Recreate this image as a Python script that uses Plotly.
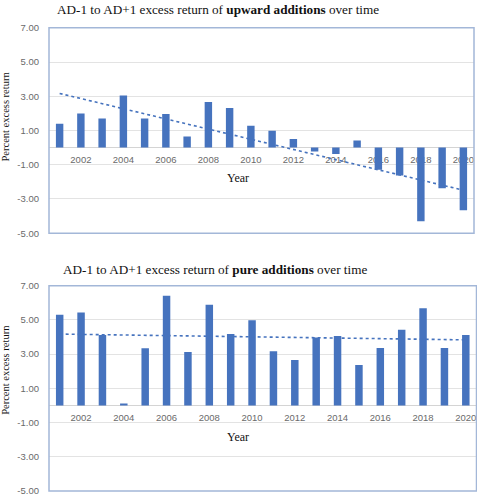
import numpy as np
import plotly.graph_objects as go

years = list(range(2001, 2021))
upward = [1.40, 2.00, 1.70, 3.05, 1.70, 1.97, 0.65, 2.67, 2.31, 1.28,
          0.99, 0.50, -0.23, -0.38, 0.42, -1.29, -1.63, -4.30, -2.38, -3.66]
pure = [5.30, 5.43, 4.12, 0.12, 3.34, 6.41, 3.13, 5.89, 4.18, 4.98,
        3.17, 2.66, 3.97, 4.06, 2.37, 3.36, 4.43, 5.69, 3.36, 4.12]
x_tick_years = list(range(2002, 2021, 2))
y_ticks = [-5, -3, -1, 1, 3, 5, 7]
y_tick_text = [f"{v:.2f}" for v in y_ticks]
title_top = "AD-1 to AD+1 excess return of <b>upward additions</b> over time"
title_bot = "AD-1 to AD+1 excess return of <b>pure additions</b> over time"

W, H = 477, 500
BAR = "#4673BE"
GRID = "#E3E3E3"
BORDER = "#A3B7D8"
TICKC = "#6A6A6A"
SERIF = "Liberation Serif, Times New Roman, serif"
SANS = "Liberation Sans, Arial, sans-serif"

def px_x(p):
    return p / W

def px_y(p):
    return 1 - p / H

panels = [
    dict(vals=upward, title=title_top, x0=49, x1=474, y0=22.3, y1=232.3,
         title_y=4, title_x=218, ytitle_y=113, year_y=176, xa="x", ya="y"),
    dict(vals=pure, title=title_bot, x0=49, x1=476.5, y0=286, y1=496,
         title_y=269.5, title_x=214.5, ytitle_y=372, year_y=441, xa="x2", ya="y2"),
]

fig = go.Figure()
shapes = []
annotations = []
for i, p in enumerate(panels):
    vals = p["vals"]
    fig.add_trace(go.Bar(x=years, y=vals, width=0.35, marker_color=BAR,
                         marker_line_width=0, xaxis=p["xa"], yaxis=p["ya"],
                         showlegend=False))
    coef = np.polyfit(years, vals, 1)
    trend = np.polyval(coef, years)
    fig.add_trace(go.Scatter(x=years, y=trend, mode="lines",
                             line=dict(color=BAR, dash="dot", width=1.6),
                             xaxis=p["xa"], yaxis=p["ya"], showlegend=False))
    ydom = [px_y(p["y1"]), px_y(p["y0"])]
    xdom = [px_x(p["x0"]), px_x(p["x1"])]
    zero_pos = ydom[0] + (ydom[1] - ydom[0]) * 5 / 12
    suffix = "" if i == 0 else "2"
    fig.update_layout(**{
        "xaxis" + suffix: dict(domain=xdom, range=[2000.5, 2020.5],
                               anchor="free", position=zero_pos,
                               tickvals=x_tick_years,
                               ticktext=[str(y) for y in x_tick_years],
                               showgrid=False, showline=False, ticks="",
                               tickfont=dict(family=SANS, size=9.5, color=TICKC),
                               ticklabelstandoff=5,
                               layer="below traces", fixedrange=True),
        "yaxis" + suffix: dict(domain=ydom, range=[-5, 7], tickvals=y_ticks,
                               ticktext=y_tick_text, showgrid=True,
                               gridcolor=GRID, gridwidth=1, zeroline=True,
                               zerolinecolor="#D4D4D4", zerolinewidth=1,
                               showline=False, ticks="",
                               tickfont=dict(family=SANS, size=9.5, color=TICKC),
                               ticklabelstandoff=9,
                               anchor="x" + suffix, fixedrange=True),
    })
    shapes.append(dict(type="rect", xref="x%s domain" % suffix,
                       yref="y%s domain" % suffix, x0=0, x1=1, y0=0, y1=1,
                       line=dict(color=BORDER, width=1.5), layer="above"))
    annotations.append(dict(text=p["title"], x=px_x(p["title_x"]),
                            y=px_y(p["title_y"]),
                            xref="paper", yref="paper", showarrow=False,
                            xanchor="center", yanchor="middle",
                            font=dict(family=SERIF, size=13.2, color="#111")))
    annotations.append(dict(text="Percent excess return", x=px_x(6),
                            y=px_y(p["ytitle_y"]), xref="paper", yref="paper",
                            showarrow=False, textangle=-90,
                            xanchor="center", yanchor="middle",
                            font=dict(family=SERIF, size=10.5, color="#111")))
    annotations.append(dict(text="Year", x=px_x(238), y=px_y(p["year_y"]),
                            xref="paper", yref="paper", showarrow=False,
                            xanchor="center", yanchor="middle",
                            font=dict(family=SERIF, size=12, color="#111")))

fig.update_layout(width=W, height=H, margin=dict(l=0, r=0, t=0, b=0),
                  paper_bgcolor="white", plot_bgcolor="white",
                  shapes=shapes, annotations=annotations, bargap=0.6)

fig.write_html("out.html", config={"displayModeBar": False},
               post_script="document.body.style.margin='0';document.body.style.padding='0';")
